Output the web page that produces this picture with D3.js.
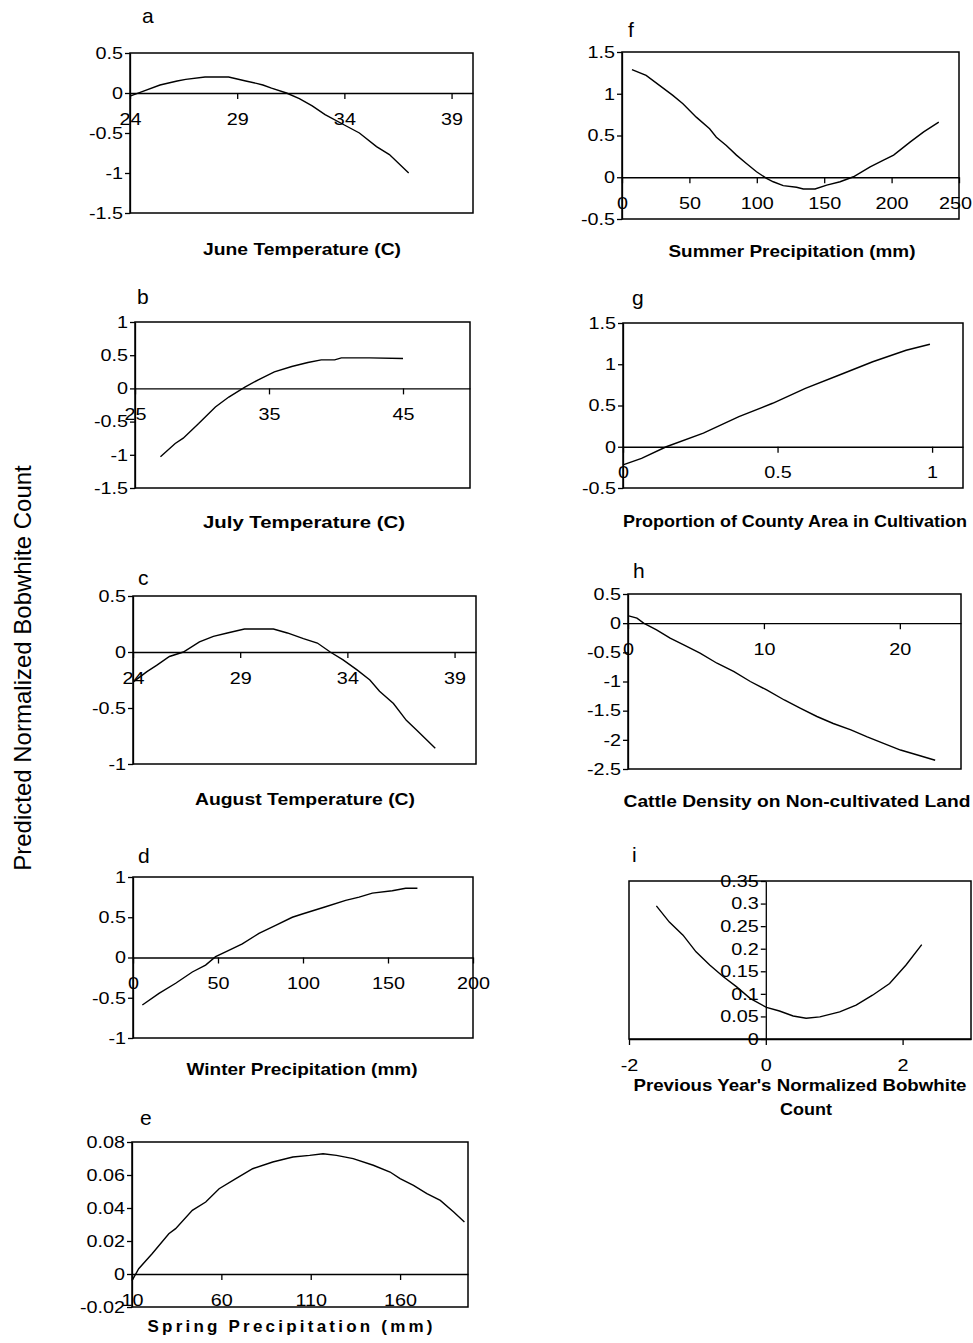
<!DOCTYPE html>
<html>
<head>
<meta charset="utf-8">
<script src="https://cdn.jsdelivr.net/npm/d3@7"></script>
<style>
  body { margin: 0; background: #fff; }
  text { font-family: "Liberation Sans", Arial, sans-serif; fill: #000; }
</style>
</head>
<body>
<div id="chart"></div>
<script>
'use strict';

// --- values ---
var juneTemp   = [24.0, 24.6, 25.4, 26.2, 26.6, 27.5, 28.6, 29.4, 29.9, 30.2, 30.6, 31.3, 31.9, 32.5, 33.1, 34.0, 34.7, 35.5, 36.1, 37.0];
var juneEffect = [-0.04, 0.02, 0.10, 0.15, 0.17, 0.20, 0.20, 0.15, 0.12, 0.10, 0.06, 0.0, -0.07, -0.16, -0.27, -0.40, -0.50, -0.67, -0.77, -1.0];
var juneXTicks = [24, 29, 34, 39];
var juneYTicks = [-1.5, -1, -0.5, 0, 0.5];

var julyTemp   = [26.9, 28.0, 28.6, 29.75, 31.0, 32.0, 33.2, 34.2, 35.4, 36.7, 37.9, 38.9, 39.9, 40.4, 42.5, 45];
var julyEffect = [-1.03, -0.83, -0.75, -0.53, -0.28, -0.13, 0.02, 0.13, 0.25, 0.33, 0.39, 0.43, 0.43, 0.46, 0.46, 0.45];
var julyXTicks = [25, 35, 45];
var julyYTicks = [-1.5, -1, -0.5, 0, 0.5, 1];

var augTemp   = [24.03, 24.65, 25.1, 25.7, 26.35, 27.1, 27.75, 28.4, 29.2, 29.9, 30.55, 31.2, 31.95, 32.6, 33.2, 33.8, 34.45, 35.05, 35.5, 36.15, 36.75, 37.25, 38.1];
var augEffect = [-0.265, -0.175, -0.12, -0.04, 0.0, 0.09, 0.14, 0.17, 0.205, 0.205, 0.205, 0.17, 0.12, 0.08, 0.0, -0.07, -0.16, -0.25, -0.35, -0.46, -0.61, -0.70, -0.86];
var augXTicks = [24, 29, 34, 39];
var augYTicks = [-1, -0.5, 0, 0.5];

var winterPrecip = [5.5, 15.3, 25.1, 34.9, 42.7, 48.6, 54.5, 64.3, 74.1, 83.9, 93.7, 99.6, 113.3, 125.1, 133, 140.8, 152.5, 160.4, 167.3];
var winterEffect = [-0.59, -0.445, -0.32, -0.18, -0.095, 0.01, 0.07, 0.17, 0.30, 0.40, 0.50, 0.54, 0.63, 0.71, 0.75, 0.80, 0.83, 0.86, 0.86];
var winterXTicks = [0, 50, 100, 150, 200];
var winterYTicks = [-1, -0.5, 0, 0.5, 1];

var springPrecip = [10, 13.75, 21.25, 30.6, 34.4, 43.75, 51.25, 58.75, 68.1, 77.5, 88.75, 100, 109.4, 116.9, 124.4, 133.75, 145, 154.4, 160, 167.5, 175, 182.5, 190, 196];
var springEffect = [-0.004, 0.0032, 0.0123, 0.0244, 0.0275, 0.0386, 0.0436, 0.0517, 0.0578, 0.0638, 0.0679, 0.0709, 0.0719, 0.0729, 0.0719, 0.0699, 0.0659, 0.0618, 0.0578, 0.0537, 0.0487, 0.0446, 0.0376, 0.0315];
var springXTicks = [10, 60, 110, 160];
var springYTicks = [-0.02, 0, 0.02, 0.04, 0.06, 0.08];

var summerPrecip = [7.4, 17.9, 27.8, 37.7, 45.2, 55.1, 65, 70, 77.4, 84.9, 92.3, 99.8, 107.2, 112.2, 119.6, 129.5, 134.5, 143.2, 151.9, 161.8, 171.7, 184.1, 194, 201.5, 213.9, 223.8, 235];
var summerEffect = [1.29, 1.22, 1.10, 0.98, 0.88, 0.72, 0.58, 0.48, 0.38, 0.265, 0.165, 0.066, -0.014, -0.054, -0.10, -0.12, -0.14, -0.14, -0.094, -0.054, 0.006, 0.125, 0.205, 0.265, 0.424, 0.544, 0.66];
var summerXTicks = [0, 50, 100, 150, 200, 250];
var summerYTicks = [-0.5, 0, 0.5, 1, 1.5];

var cultivation       = [0.0, 0.06, 0.14, 0.26, 0.375, 0.484, 0.59, 0.70, 0.808, 0.916, 0.993];
var cultivationEffect = [-0.22, -0.14, 0.0, 0.165, 0.366, 0.527, 0.708, 0.87, 1.03, 1.17, 1.243];
var cultXTicks = [0, 0.5, 1];
var cultYTicks = [-0.5, 0, 0.5, 1, 1.5];

var cattle       = [0.05, 0.66, 1.15, 2.1, 3.1, 4.1, 5.3, 6.55, 7.8, 9.0, 10.2, 11.5, 12.7, 13.9, 15.1, 16.4, 17.6, 18.8, 20.05, 21.3, 22.6];
var cattleEffect = [0.126, 0.086, 0.0, -0.114, -0.258, -0.372, -0.515, -0.687, -0.83, -1.0, -1.145, -1.317, -1.46, -1.60, -1.72, -1.83, -1.95, -2.06, -2.175, -2.26, -2.35];
var cattleXTicks = [0, 10, 20];
var cattleYTicks = [-2.5, -2, -1.5, -1, -0.5, 0, 0.5];

var prevCount  = [-1.60, -1.41, -1.21, -1.02, -0.82, -0.62, -0.43, -0.23, 0.01, 0.2, 0.4, 0.59, 0.79, 1.08, 1.32, 1.56, 1.81, 2.05, 2.28];
var prevEffect = [0.295, 0.259, 0.23, 0.193, 0.164, 0.138, 0.116, 0.09, 0.07, 0.062, 0.051, 0.046, 0.049, 0.06, 0.075, 0.097, 0.123, 0.164, 0.209];
var prevXTicks = [-2, 0, 2];
var prevYTicks = [0, 0.05, 0.1, 0.15, 0.2, 0.25, 0.3, 0.35];

var panelLetters = ['a', 'b', 'c', 'd', 'e', 'f', 'g', 'h', 'i'];
var xTitles = ['June Temperature (C)', 'July Temperature (C)', 'August Temperature (C)',
  'Winter Precipitation (mm)', 'Spring Precipitation (mm)', 'Summer Precipitation (mm)',
  'Proportion of County Area in Cultivation', 'Cattle Density on Non-cultivated Land',
  "Previous Year's Normalized Bobwhite"];
var yTitle = 'Predicted Normalized Bobwhite Count';

// --- layout ---
var W = 973, H = 1343;
var tickStretch = 1.2;

var panels = [
  {xs: juneTemp, ys: juneEffect, xd: [24, 40], yd: [-1.5, 0.5], xt: juneXTicks, yt: juneYTicks,
   box: [130, 473, 53, 213], letter: [142, 23], title: [302, 255, 198]},
  {xs: julyTemp, ys: julyEffect, xd: [25, 50], yd: [-1.5, 1], xt: julyXTicks, yt: julyYTicks,
   box: [135, 470, 322, 488], letter: [137, 304], title: [304, 528, 202]},
  {xs: augTemp, ys: augEffect, xd: [24, 40], yd: [-1, 0.5], xt: augXTicks, yt: augYTicks,
   box: [133, 476, 596, 764], letter: [138, 585], title: [305, 805, 220]},
  {xs: winterPrecip, ys: winterEffect, xd: [0, 200], yd: [-1, 1], xt: winterXTicks, yt: winterYTicks,
   box: [133, 473, 877, 1038], letter: [138, 863], title: [302, 1075, 231]},
  {xs: springPrecip, ys: springEffect, xd: [10, 198], yd: [-0.02, 0.08], xt: springXTicks, yt: springYTicks,
   box: [132, 468, 1142, 1307], letter: [140, 1125], title: [290, 1332, 285], spaced: true},
  {xs: summerPrecip, ys: summerEffect, xd: [0, 250], yd: [-0.5, 1.5], xt: summerXTicks, yt: summerYTicks,
   box: [622, 959, 52, 219], letter: [628, 37], title: [792, 257, 247]},
  {xs: cultivation, ys: cultivationEffect, xd: [0, 1.1], yd: [-0.5, 1.5], xt: cultXTicks, yt: cultYTicks,
   box: [623, 963, 323, 488], letter: [632, 305], title: [795, 527, 344]},
  {xs: cattle, ys: cattleEffect, xd: [0, 24.5], yd: [-2.5, 0.5], xt: cattleXTicks, yt: cattleYTicks,
   box: [628, 961, 594, 769], letter: [633, 578], title: [797, 807, 347]},
  {xs: prevCount, ys: prevEffect, xd: [-2, 3], yd: [0, 0.35], xt: prevXTicks, yt: prevYTicks,
   box: [629, 971, 881, 1039], letter: [632, 862], title: [800, 1091, 333], yAtZero: true}
];

var svg = d3.select('#chart').append('svg')
  .attr('width', W)
  .attr('height', H)
  .style('background', '#fff');

function stretchTicks(axisG) {
  axisG.selectAll('.tick text').each(function () {
    var t = d3.select(this);
    var tx = +t.attr('x') || 0;
    t.attr('x', 0).attr('transform', 'translate(' + tx + ',0) scale(' + tickStretch + ',1)');
    // keep labels inside the page (the 250 on panel f sits at the edge)
    var r = this.getBoundingClientRect();
    if (r.right > W - 1) {
      tx = tx - (r.right - (W - 1));
      t.attr('transform', 'translate(' + tx + ',0) scale(' + tickStretch + ',1)');
    }
  });
}

function styleAxis(axisG) {
  axisG.attr('font-size', 16.5).attr('font-family', '"Liberation Sans", Arial, sans-serif');
  axisG.selectAll('path, line').attr('stroke', '#000').attr('stroke-width', 1.3);
  stretchTicks(axisG);
}

function drawPanel(p, i) {
  var x = d3.scaleLinear().domain(p.xd).range([p.box[0], p.box[1]]);
  var y = d3.scaleLinear().domain(p.yd).range([p.box[3], p.box[2]]);
  var g = svg.append('g').attr('class', 'panel');

  g.append('rect')
    .attr('x', p.box[0]).attr('y', p.box[2])
    .attr('width', p.box[1] - p.box[0]).attr('height', p.box[3] - p.box[2])
    .attr('fill', 'none').attr('stroke', '#000').attr('stroke-width', 1.5);

  // x axis sits on y = 0 (bottom edge for panel i)
  var xAxisY = p.yAtZero ? y(p.yd[0]) : y(0);
  var xAxis = d3.axisBottom(x).tickValues(p.xt).tickSize(6).tickPadding(14)
    .tickSizeOuter(0).tickFormat(function (d) { return String(d); });
  var gx = g.append('g').attr('transform', 'translate(0,' + xAxisY + ')').call(xAxis);
  styleAxis(gx);

  var yAxisX = p.yAtZero ? x(0) : p.box[0];
  var yAxis = d3.axisLeft(y).tickValues(p.yt).tickSize(5).tickPadding(2)
    .tickSizeOuter(0).tickFormat(function (d) { return String(d); });
  var gy = g.append('g').attr('transform', 'translate(' + yAxisX + ',0)').call(yAxis);
  styleAxis(gy);

  var line = d3.line()
    .x(function (d) { return x(d[0]); })
    .y(function (d) { return y(d[1]); });
  g.append('path')
    .datum(d3.zip(p.xs, p.ys))
    .attr('d', line)
    .attr('fill', 'none')
    .attr('stroke', '#000')
    .attr('stroke-width', 1.4);

  g.append('text')
    .attr('x', p.letter[0]).attr('y', p.letter[1])
    .attr('font-size', 21)
    .text(panelLetters[i]);

  g.append('text')
    .attr('x', p.title[0]).attr('y', p.title[1])
    .attr('text-anchor', 'middle')
    .attr('font-size', 17)
    .attr('font-weight', 'bold')
    .attr('textLength', p.title[2])
    .attr('lengthAdjust', p.spaced ? 'spacing' : 'spacingAndGlyphs')
    .text(xTitles[i]);
}

panels.forEach(drawPanel);

// second line of panel i title
svg.append('text')
  .attr('x', 806).attr('y', 1115)
  .attr('text-anchor', 'middle')
  .attr('font-size', 17)
  .attr('font-weight', 'bold')
  .attr('textLength', 52)
  .attr('lengthAdjust', 'spacingAndGlyphs')
  .text('Count');

svg.append('text')
  .attr('transform', 'translate(31,668) rotate(-90)')
  .attr('text-anchor', 'middle')
  .attr('font-size', 24)
  .text(yTitle);
</script>
</body>
</html>
